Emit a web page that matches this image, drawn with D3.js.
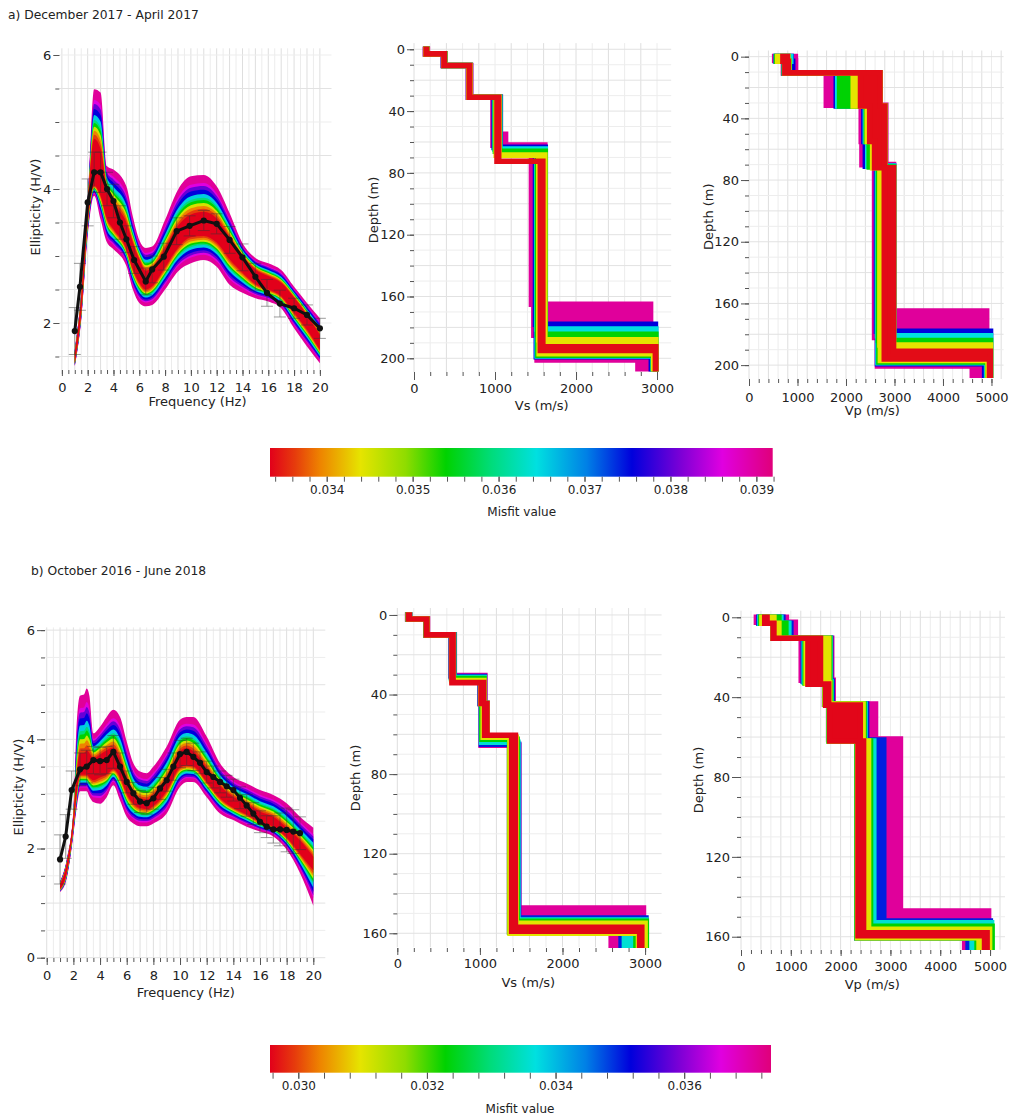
<!DOCTYPE html>
<html><head><meta charset="utf-8">
<script src="https://cdn.jsdelivr.net/npm/d3@7"></script>
<style>
body{margin:0;background:#fff}
text{font-family:"DejaVu Sans",Verdana,sans-serif;fill:#222}
</style>
</head><body>
<script>
// ---------------- DATA ----------------
// colour map stops (fraction of misfit range) and colours
const cStops = [0,0.05,0.10,0.18,0.27,0.35,0.44,0.53,0.63,0.72,0.82,0.90,1];
const cCols  = ["#e2001a","#e63c0c","#ee8400","#e6e400","#8fdc00","#00d200","#00dc7a","#00e0e0","#0080e6","#0000dc","#8000d6","#e000e0","#e0007a"];

// colourbar ranges and ticks
const cbDomainA = [0.03334, 0.03919];
const cbMinorA = d3.range(0.0334, 0.03921, 0.0002);
const cbLabelA = [0.034,0.035,0.036,0.037,0.038,0.039];
const cbDomainB = [0.02956, 0.03735];
const cbMinorB = d3.range(0.0296, 0.03721, 0.0004);
const cbLabelB = [0.030,0.032,0.034,0.036];

// ellipticity band layers (outer -> inner) : blend position, misfit fraction
const bandT = [0, 0.22, 0.30, 0.40, 0.52, 0.62, 0.68, 0.76, 0.84, 0.92, 1];
const bandF = [0.97,0.90,0.80,0.72,0.55,0.44,0.35,0.20,0.10,0.05,0];

// ---- a) ellipticity ----
const freqA    = [1,1.5,2,2.5,3,3.5,4,5,5.5,6,6.5,7,8,9,10,11,12,13,14,15,16,17,18,19,20];
const outerHiA = [1.60,2.45,3.84,5.49,5.44,4.34,4.29,4.04,3.59,3.24,3.12,3.14,3.54,3.99,4.19,4.21,4.04,3.64,3.19,2.97,2.89,2.79,2.54,2.30,2.07];
const outerLoA = [1.35,2.05,3.30,3.90,3.55,3.20,3.10,2.85,2.50,2.30,2.25,2.27,2.50,2.77,2.89,2.94,2.84,2.57,2.45,2.37,2.32,2.22,1.92,1.65,1.40];
const innerHiA = [1.55,2.40,3.80,4.75,4.60,4.00,3.80,3.50,3.20,2.95,2.78,2.82,3.12,3.45,3.62,3.66,3.56,3.28,3.00,2.80,2.70,2.60,2.38,2.12,1.82];
const innerLoA = [1.40,2.15,3.50,4.05,3.90,3.55,3.40,3.10,2.80,2.60,2.50,2.55,2.83,3.12,3.28,3.30,3.20,2.95,2.75,2.58,2.50,2.40,2.15,1.90,1.60];
const obsFreqA = [1,1.4,2,2.5,3,3.5,4,4.5,5,5.6,6.5,7,7.9,8.9,9.9,11,12,13,14,15,15.9,16.9,18,19,20];
const obsA     = [1.88,2.54,3.80,4.25,4.25,4.00,3.82,3.50,3.25,2.94,2.62,2.80,2.99,3.37,3.45,3.53,3.48,3.24,2.98,2.69,2.45,2.29,2.22,2.12,1.92];
const errA     = [0.35,0.35,0.35,0.30,0.30,0.25,0.25,0.25,0.20,0.20,0.20,0.20,0.20,0.20,0.15,0.15,0.15,0.20,0.20,0.20,0.20,0.20,0.15,0.15,0.15];

// ---- b) ellipticity ----
const freqB    = [1,1.5,2,2.25,2.5,2.8,3,3.2,3.5,4,4.5,5,5.5,6,6.5,7,7.5,8,9,10,10.5,11,12,13,14,15,16,17,18,19,20];
const outerHiB = [1.40,1.80,2.70,4.30,4.80,4.82,4.93,4.80,4.11,4.23,4.41,4.54,4.41,3.96,3.56,3.41,3.38,3.50,3.87,4.36,4.41,4.41,4.05,3.56,3.31,3.19,3.07,2.98,2.83,2.58,2.38];
const outerLoB = [1.20,1.45,2.25,2.75,3.05,3.05,3.05,2.95,2.85,2.82,2.94,3.16,2.88,2.58,2.46,2.41,2.41,2.46,2.64,3.13,3.22,3.22,2.94,2.64,2.52,2.40,2.31,2.22,1.98,1.55,0.95];
const innerHiB = [1.35,1.72,2.60,3.35,3.75,3.75,3.80,3.75,3.65,3.72,3.80,3.85,3.65,3.30,3.02,2.92,2.90,2.98,3.30,3.78,3.84,3.78,3.48,3.15,2.95,2.82,2.68,2.58,2.38,2.15,1.85];
const innerLoB = [1.25,1.55,2.40,3.00,3.35,3.35,3.35,3.30,3.25,3.30,3.35,3.45,3.30,3.00,2.82,2.74,2.72,2.78,3.05,3.48,3.52,3.50,3.22,2.92,2.74,2.62,2.48,2.40,2.20,1.90,1.60];
const obsFreqB = [1,1.42,1.87,2.5,3,3.5,4,4.5,5,5.5,6,6.5,7,7.5,8,8.5,9,9.5,10,10.5,11,11.5,12,12.5,13,13.5,14,14.5,15,15.5,16,16.5,17,17.5,18,18.5,19];
const obsB     = [1.80,2.22,3.07,3.45,3.50,3.62,3.60,3.62,3.77,3.50,3.22,3.01,2.86,2.83,2.92,3.10,3.25,3.50,3.73,3.77,3.68,3.57,3.40,3.31,3.22,3.14,3.07,2.93,2.79,2.64,2.49,2.40,2.35,2.35,2.34,2.31,2.28];
const errB     = [0.45,0.40,0.35,0.30,0.30,0.25,0.25,0.25,0.30,0.25,0.20,0.20,0.20,0.20,0.20,0.20,0.20,0.25,0.25,0.25,0.25,0.20,0.20,0.20,0.20,0.20,0.20,0.20,0.20,0.20,0.20,0.20,0.25,0.30,0.40,0.40,0.30];

// ---- misfit value of each model group (outer/pink -> best/red) ----
const misfitA = [0.0390, 0.03755, 0.03645, 0.0354, 0.0344, 0.0334];
const misfitB = [0.0371, 0.0350, 0.0336, 0.0323, 0.0310, 0.0296];

// velocity envelopes: rows [top depth (m), min velocity, max velocity] per group
const vsA = [
  [[0,140,165],[3,360,385],[10.5,670,700],[31,975,1065],[55,975,1130],[62,1450,1615],[165,1480,2920],[185,1520,2930],[201,2765,2930]],
  [[0,145,160],[3,365,380],[10.5,675,695],[31,990,1065],[63.5,1500,1620],[178,1510,2980],[199,2930,2985]],
  [[0,145,160],[3,365,380],[10.5,675,695],[31,1000,1060],[64.5,1515,1620],[181,1520,2985],[198.5,2950,2985]],
  [[0,148,158],[3,368,378],[10.5,678,692],[31,1005,1055],[66,1525,1620],[184.5,1530,2985],[198,2955,2985]],
  [[0,148,158],[3,368,378],[10.5,678,692],[31,1015,1050],[68.5,1540,1615],[188,1545,2985],[197,2960,2985]],
  [[0,150,156],[3,370,375],[10.5,682,688],[31,1025,1045],[72.5,1560,1590],[192.5,1560,2985],[195,2980,2985]]
];
const vpA = [
  [[0,530,955],[2.5,710,960],[10.5,1595,2700],[31.5,2315,2820],[55,2330,2820],[70,2590,2980],[165,2590,4900],[182,2650,4950],[200.5,4605,4950]],
  [[0,560,870],[3,720,900],[10.5,1800,2700],[32,2370,2800],[55,2400,2800],[71,2630,2980],[178,2650,4980],[199,4860,4980]],
  [[0,565,860],[3,730,830],[10.5,1830,2700],[32,2400,2800],[55,2450,2800],[71,2650,2980],[181,2660,4980],[198.5,4900,4980]],
  [[0,570,800],[3,730,830],[10.5,1870,2700],[32,2420,2800],[55,2480,2800],[71.5,2670,2980],[184,2680,4980],[198,4920,4980]],
  [[0,590,800],[3,735,820],[10.5,2150,2700],[32,2440,2800],[55,2550,2800],[72,2700,2980],[187,2710,4980],[197,4930,4980]],
  [[0,700,790],[3,740,810],[10.5,2300,2700],[32,2490,2800],[55,2590,2800],[72,2790,2980],[191,2790,4975],[196,4960,4975]]
];
const vsB = [
  [[0,125,150],[2,345,365],[10,650,690],[30.5,1000,1060],[44.5,1015,1085],[65.5,1360,1470],[147.3,1360,2980],[159,2590,2980]],
  [[0,128,148],[2,348,362],[10,655,685],[31,1005,1055],[44.5,1018,1085],[65,1365,1468],[152.3,1365,3010],[159.5,2710,3010]],
  [[0,130,148],[2,350,360],[10,658,682],[31.5,1008,1052],[44.5,1020,1085],[64,1370,1460],[153.3,1370,3010],[159.5,2750,3010]],
  [[0,132,146],[2,350,360],[10,658,680],[32,1010,1050],[44.5,1025,1085],[62.5,1360,1450],[154,1360,3015],[159.5,2890,3015]],
  [[0,134,146],[2,352,358],[10,660,678],[33,1012,1048],[44.5,1040,1085],[61.5,1365,1440],[155,1365,3000],[160,2920,3000]],
  [[0,135,145],[2,352,358],[10,662,675],[34,1015,1045],[44.5,1058,1085],[60.5,1385,1430],[157,1385,2960],[159,2935,2960]]
];
const vpB = [
  [[0,310,910],[2.5,640,1090],[10.5,1210,1820],[31.5,1680,1850],[43.5,1760,2700],[61,2330,3200],[147.2,2330,4970],[160.5,4490,4970]],
  [[0,360,840],[3,645,1000],[10.5,1250,1800],[32,1680,1830],[43.5,1765,2520],[61.5,2330,2865],[152.2,2330,5005],[160.5,4560,5005]],
  [[0,380,800],[3,645,960],[10.5,1270,1790],[32.5,1685,1810],[43.5,1770,2490],[62,2330,2665],[153,2330,5030],[160.5,4640,5030]],
  [[0,400,760],[3,645,900],[10.5,1290,1780],[33,1685,1800],[43.5,1770,2470],[62,2330,2600],[154.8,2330,5040],[160.5,4740,5040]],
  [[0,420,660],[3,645,760],[10.5,1310,1760],[33,1690,1780],[43.5,1775,2450],[62,2340,2560],[156.3,2340,4990],[160.5,4780,4990]],
  [[0,477,522],[3,645,660],[10.5,1345,1595],[33.5,1700,1760],[44,1782,2394],[62,2350,2460],[158,2350,4940],[159.5,4890,4940]]
];
const modelBottom = {vsA:206.7, vpA:206.6, vsB:166, vpB:165.3};

// tick values
const freqMajor = [0,2,4,6,8,10,12,14,16,18,20];
const freqMinor = d3.range(0,20.01,0.5);
const ellMajorA = [2,4,6], ellMajorB = [0,2,4,6];
const vsMajor = [0,1000,2000,3000], vpMajor = [0,1000,2000,3000,4000,5000];
const depthMajorA = [0,40,80,120,160,200], depthMajorB = [0,40,80,120,160];

// ---------------- DRAWING ----------------
const svg = d3.select("body").append("svg").attr("width",1009).attr("height",1116);
const cmap = d3.scaleLinear().domain(cStops).range(cCols).clamp(true);
const mColor = (m, dom) => cmap((m-dom[0])/(dom[1]-dom[0]));

function axes(g, x, y, o) {
  const ax = g.append("g").attr("transform",`translate(0,${o.axY})`);
  ax.call(d3.axisBottom(x).tickValues(o.xMinor).tickSize(o.xMinS).tickFormat(""));
  ax.append("g").call(d3.axisBottom(x).tickValues(o.xMajor).tickSize(o.xMajS).tickPadding(o.xPad).tickFormat(d3.format("d")));
  const ay = g.append("g").attr("transform",`translate(${o.axX},0)`);
  ay.call(d3.axisLeft(y).tickValues(o.yMinor).tickSize(o.yMinS).tickFormat(""));
  ay.append("g").call(d3.axisLeft(y).tickValues(o.yMajor).tickSize(o.yMajS).tickPadding(o.yPad).tickFormat(d3.format("d")));
  g.selectAll(".domain").remove();
  g.selectAll(".tick line").attr("stroke","#555");
  g.selectAll(".tick text").attr("font-size",13).attr("font-family","DejaVu Sans, Verdana, sans-serif").attr("fill","#222");
  g.append("text").attr("x",o.xtX).attr("y",o.xtY).attr("text-anchor","middle").attr("font-size",13).text(o.xTitle);
  g.append("text").attr("transform",`translate(${o.ytX},${o.ytY}) rotate(-90)`).attr("text-anchor","middle")
    .attr("dy","0.35em").attr("font-size",13).text(o.yTitle);
}

function gridLines(g, x, y, xv, yv) {
  const [x0,x1] = x.range(), [y0,y1] = y.range();
  g.append("g").selectAll("line").data(xv).join("line")
    .attr("x1",d=>x(d)).attr("x2",d=>x(d)).attr("y1",y0).attr("y2",y1)
    .attr("stroke",(d,i)=> i%2===0 ? "#dedede":"#ececec").attr("stroke-width",1);
  g.append("g").selectAll("line").data(yv).join("line")
    .attr("y1",d=>y(d)).attr("y2",d=>y(d)).attr("x1",x0).attr("x2",x1)
    .attr("stroke",(d,i)=> i%2===0 ? "#e2e2e2":"#ededed").attr("stroke-width",1);
}

function ellPanel(c) {
  const x = d3.scaleLinear().domain(c.xd).range(c.xr);
  const y = d3.scaleLinear().domain(c.yd).range(c.yr);
  const g = svg.append("g");
  gridLines(g, x, y, freqMinor, d3.range(Math.ceil(c.yd[0]*2)/2, c.yd[1]+0.001, 0.5));
  bandT.forEach((t,k) => {
    const area = d3.area()
      .x((d,j)=>x(c.freq[j]))
      .y0((d,j)=>y(c.oLo[j] + (c.iLo[j]-c.oLo[j])*t))
      .y1((d,j)=>y(c.oHi[j] + (c.iHi[j]-c.oHi[j])*t))
      .curve(d3.curveMonotoneX);
    g.append("path").datum(c.freq).attr("d",area).attr("fill",cmap(bandF[k]));
  });
  const pts = c.obsF.map((f,i)=>[f,c.obs[i],c.err[i]]);
  const eb = g.append("g").attr("stroke","#333").attr("stroke-width",0.8).attr("opacity",0.6);
  eb.selectAll(".v").data(pts).join("line").attr("x1",d=>x(d[0])).attr("x2",d=>x(d[0]))
    .attr("y1",d=>y(d[1]-d[2])).attr("y2",d=>y(d[1]+d[2]));
  eb.selectAll(".t").data(pts).join("line").attr("x1",d=>x(d[0])-6).attr("x2",d=>x(d[0])+6)
    .attr("y1",d=>y(d[1]+d[2])).attr("y2",d=>y(d[1]+d[2]));
  eb.selectAll(".b").data(pts).join("line").attr("x1",d=>x(d[0])-6).attr("x2",d=>x(d[0])+6)
    .attr("y1",d=>y(d[1]-d[2])).attr("y2",d=>y(d[1]-d[2]));
  g.append("path").datum(pts).attr("d",d3.line().x(d=>x(d[0])).y(d=>y(d[1])))
    .attr("fill","none").attr("stroke","#111").attr("stroke-width",3);
  g.append("g").selectAll("circle").data(pts).join("circle")
    .attr("cx",d=>x(d[0])).attr("cy",d=>y(d[1])).attr("r",3.1).attr("fill","#111");
  axes(g, x, y, c.ax);
}

function velPanel(c) {
  const x = d3.scaleLinear().domain(c.xd).range(c.xr);
  const y = d3.scaleLinear().domain(c.yd).range(c.yr);
  const g = svg.append("g");
  gridLines(g, x, y, d3.range(0, c.xd[1], 200), d3.range(0, c.yd[1], 10));
  const area = d3.area().y(d=>y(d[0])).x0(d=>x(d[1])).x1(d=>x(d[2])).curve(d3.curveStepBefore);
  c.groups.forEach((rows,k) => {
    const last = rows[rows.length-1];
    const pts = rows.concat([[c.bottom,last[1],last[2]]]);
    const col = mColor(c.misfit[k], c.cb);
    g.append("path").attr("d",area(pts)).attr("fill",col).attr("stroke",col)
      .attr("stroke-width",5.6).attr("stroke-linejoin","miter");
  });
  axes(g, x, y, c.ax);
}

function colorbar(c) {
  const x = d3.scaleLinear().domain(c.dom).range([c.x0,c.x1]);
  const id = "grad"+c.id;
  const gr = svg.append("defs").append("linearGradient").attr("id",id);
  cStops.forEach((s,i)=> gr.append("stop").attr("offset",s).attr("stop-color",cCols[i]));
  svg.append("rect").attr("x",c.x0).attr("y",c.y0).attr("width",c.x1-c.x0).attr("height",c.h).attr("fill",`url(#${id})`);
  const g = svg.append("g").attr("transform",`translate(0,${c.y0+c.h})`);
  g.call(d3.axisBottom(x).tickValues(c.minor).tickSize(c.ts).tickFormat(""));
  g.append("g").call(d3.axisBottom(x).tickValues(c.labels).tickSize(c.ts).tickPadding(c.pad).tickFormat(d3.format(".3f")));
  g.selectAll(".domain").remove();
  g.selectAll(".tick line").attr("stroke","#555");
  g.selectAll(".tick text").attr("font-size",12).attr("font-family","DejaVu Sans, Verdana, sans-serif").attr("fill","#222");
  svg.append("text").attr("x",c.tx).attr("y",c.ty).attr("text-anchor","middle").attr("font-size",12).text("Misfit value");
}

// titles
svg.append("text").attr("x",8).attr("y",19).attr("font-size",12.3).text("a) December 2017 - April 2017");
svg.append("text").attr("x",31).attr("y",575).attr("font-size",12.3).text("b) October 2016 - June 2018");

// ---- panel a ----
ellPanel({freq:freqA,oHi:outerHiA,oLo:outerLoA,iHi:innerHiA,iLo:innerLoA,obsF:obsFreqA,obs:obsA,err:errA,
  xd:[-0.2,20.9], xr:[59.3,331.5], yd:[1.3,6.1], yr:[369.9,48.3],
  ax:{axY:370,axX:59.3,xMinor:freqMinor,xMajor:freqMajor,xMinS:4,xMajS:6,xPad:6.8,
      yMinor:d3.range(1.5,6.01,0.5),yMajor:ellMajorA,yMinS:4,yMajS:6,yPad:2,
      xTitle:"Frequency (Hz)",xtX:197.5,xtY:406,yTitle:"Ellipticity (H/V)",ytX:35,ytY:207}});
velPanel({groups:vsA,misfit:misfitA,cb:cbDomainA,bottom:modelBottom.vsA,
  xd:[0,3175], xr:[414,671.2], yd:[-4,209], yr:[43.1,372.2],
  ax:{axY:372,axX:414,xMinor:d3.range(0,3001,200),xMajor:vsMajor,xMinS:4,xMajS:8,xPad:3.8,
      yMinor:d3.range(0,201,10),yMajor:depthMajorA,yMinS:4,yMajS:7,yPad:2,
      xTitle:"Vs (m/s)",xtX:541.7,xtY:410,yTitle:"Depth (m)",ytX:373.3,ytY:210}});
velPanel({groups:vpA,misfit:misfitA,cb:cbDomainA,bottom:modelBottom.vpA,
  xd:[0,5250], xr:[749,1003.6], yd:[-4,209], yr:[50.5,379],
  ax:{axY:379,axX:749,xMinor:d3.range(0,5001,200),xMajor:vpMajor,xMinS:4,xMajS:7,xPad:6.5,
      yMinor:d3.range(0,201,10),yMajor:depthMajorA,yMinS:4,yMajS:8,yPad:2,
      xTitle:"Vp (m/s)",xtX:872.3,xtY:415,yTitle:"Depth (m)",ytX:708.3,ytY:216.7}});
colorbar({id:"A",dom:cbDomainA,x0:270,x1:772.7,y0:448,h:28.7,minor:cbMinorA,labels:cbLabelA,ts:5,pad:4,tx:521.7,ty:516});

// ---- panel b ----
ellPanel({freq:freqB,oHi:outerHiB,oLo:outerLoB,iHi:innerHiB,iLo:innerLoB,obsF:obsFreqB,obs:obsB,err:errB,
  xd:[-0.13,20.9], xr:[45,325.3], yd:[0,6.05], yr:[957.7,627.4],
  ax:{axY:958,axX:45,xMinor:freqMinor,xMajor:freqMajor,xMinS:4,xMajS:7,xPad:5.8,
      yMinor:d3.range(0,6.01,0.5),yMajor:ellMajorB,yMinS:4,yMajS:8,yPad:2,
      xTitle:"Frequency (Hz)",xtX:185.7,xtY:997,yTitle:"Ellipticity (H/V)",ytX:18.3,ytY:787}});
velPanel({groups:vsB,misfit:misfitB,cb:cbDomainB,bottom:modelBottom.vsB,
  xd:[0,3200], xr:[397.3,661.6], yd:[-3.5,167], yr:[608,947.2],
  ax:{axY:948,axX:397.3,xMinor:d3.range(0,3001,200),xMajor:vsMajor,xMinS:4,xMajS:7,xPad:3.8,
      yMinor:d3.range(0,161,10),yMajor:depthMajorB,yMinS:4,yMajS:8,yPad:2,
      xTitle:"Vs (m/s)",xtX:528.3,xtY:987,yTitle:"Depth (m)",ytX:355,ytY:778}});
velPanel({groups:vpB,misfit:misfitB,cb:cbDomainB,bottom:modelBottom.vpB,
  xd:[0,5300], xr:[741,1005], yd:[-3.3,166.5], yr:[610.7,949.7],
  ax:{axY:950,axX:741,xMinor:d3.range(0,5001,200),xMajor:vpMajor,xMinS:4,xMajS:6,xPad:5.8,
      yMinor:d3.range(0,161,10),yMajor:depthMajorB,yMinS:4,yMajS:9,yPad:2,
      xTitle:"Vp (m/s)",xtX:872.3,xtY:989,yTitle:"Depth (m)",ytX:698.3,ytY:780}});
colorbar({id:"B",dom:cbDomainB,x0:270,x1:771,y0:1045,h:27.7,minor:cbMinorB,labels:cbLabelB,ts:6,pad:3,tx:520,ty:1113});
</script>
</body></html>
